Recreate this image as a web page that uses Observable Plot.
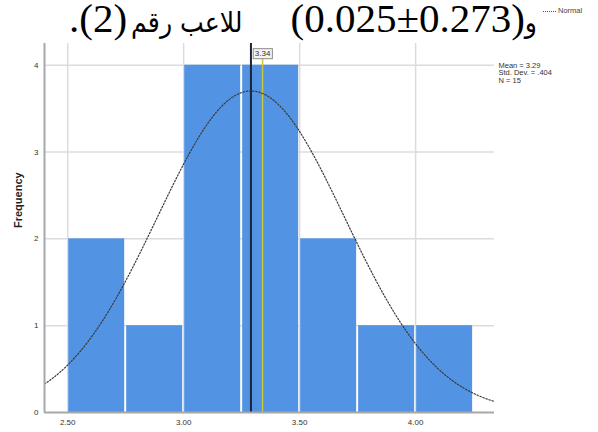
<!DOCTYPE html>
<html>
<head>
<meta charset="utf-8">
<script src="https://cdn.jsdelivr.net/npm/d3@7"></script>
<script src="https://cdn.jsdelivr.net/npm/@observablehq/plot@0.6"></script>
<style>
  body { margin: 0; background: #fff; }
  #wrap { position: relative; width: 598px; height: 432px; overflow: hidden; background: #fff; }
  #head { position: relative; height: 40px; }
  #title {
    position: absolute; right: 61px; top: -2px;
    display: flex; align-items: baseline; direction: ltr;
    line-height: 40px; color: #000;
  }
  #title .ar { font-family: "DejaVu Sans", sans-serif; font-stretch: condensed; font-size: 28px; white-space: pre; }
  #title .sp1 { margin-left: 4px; }
  #title .sp2 { margin-left: 48px; }
  #legend {
    position: absolute; left: 543px; top: 6px;
    font: 7.5px "Liberation Sans", Arial, sans-serif; color: #444; white-space: nowrap;
  }
  #legend .swatch {
    display: inline-block; width: 13px; height: 0; border-top: 1px dotted #555;
    vertical-align: middle; margin-right: 2px;
  }
  #chart svg { display: block; }
</style>
</head>
<body>
<div id="wrap">
  <div id="head">
    <div id="title"><span style="font-family:'Liberation Serif';font-size:41px">.(2)</span><span class="ar sp1" dir="rtl">للاعب رقم</span><span class="sp2" style="font-family:'Liberation Serif';font-size:41px">(0.025±0.273)</span><span class="ar" dir="rtl">و</span></div>
    <div id="legend"><span class="swatch"></span>Normal</div>
  </div>
  <div id="chart"></div>
</div>
<script>
// Histogram bins (lower edges), counts and summary statistics
const binStarts = [2.50, 2.75, 3.00, 3.25, 3.50, 3.75, 4.00];
const binWidth = 0.25;
const frequencies = [2, 1, 4, 4, 2, 1, 1];
const xTicks = [2.50, 3.00, 3.50, 4.00];
const yTicks = [0, 1, 2, 3, 4];
const mean = 3.29;
const stdDev = 0.404;
const count = 15;
const median = 3.34;
const xDomain = [2.40, 4.34];
const yDomain = [0, 4.25];

const bins = binStarts.map((x0, i) => ({x1: x0, x2: x0 + binWidth, count: frequencies[i]}));

// Fitted normal curve, scaled to the histogram counts
const normalCurve = d3.range(xDomain[0], xDomain[1] + 1e-9, 0.005).map(x => {
  const z = (x - mean) / stdDev;
  return {x, y: count * binWidth * Math.exp(-0.5 * z * z) / (stdDev * Math.sqrt(2 * Math.PI))};
});

const statsText = `Mean = ${mean.toFixed(2)}\nStd. Dev. = ${stdDev.toFixed(3).replace(/^0/, "")}\nN = ${count}`;

const grid = "#dcdcdc";
const axisGray = "#a8a8a8";

const chart = Plot.plot({
  width: 598,
  height: 392,
  marginTop: 3,
  marginBottom: 20,
  marginLeft: 44,
  marginRight: 104,
  x: {domain: xDomain},
  y: {domain: yDomain},
  style: {fontFamily: "'Liberation Sans', Arial, sans-serif", fontSize: "8px", color: "#333", background: "#fff"},
  marks: [
    Plot.ruleX(xTicks, {stroke: grid, strokeWidth: 1.5}),
    Plot.ruleY(yTicks.filter(d => d > 0), {stroke: grid, strokeWidth: 1.5}),
    Plot.rectY(bins, {x1: "x1", x2: "x2", y: "count", fill: "#5393e3", insetLeft: 1, insetRight: 1}),
    Plot.ruleX([median], {y1: 0, y2: 4.11, stroke: "#c9c832", strokeWidth: 1.5}),
    Plot.ruleX([mean], {stroke: "#1b2438", strokeWidth: 2}),
    Plot.line(normalCurve, {x: "x", y: "y", stroke: "#3a3a3a", strokeWidth: 1.2, strokeDasharray: "1.4,1.8"}),
    Plot.ruleX([xDomain[0]], {stroke: axisGray, strokeWidth: 2}),
    Plot.ruleY([0], {stroke: axisGray, strokeWidth: 2}),
    Plot.axisX(xTicks, {tickSize: 0, tickPadding: 7, tickFormat: d3.format(".2f"), label: null}),
    Plot.axisY(yTicks, {tickSize: 0, tickPadding: 6, tickFormat: d3.format("d"), label: null}),
    Plot.text(["Frequency"], {frameAnchor: "left", rotate: -90, dx: -26, fontWeight: "bold", fontSize: 11, fill: "#222"}),
    Plot.text([median], {x: d => d, frameAnchor: "top", dy: 7, text: d => d.toFixed(2), fontSize: 8, fill: "#333", className: "median-label"}),
    Plot.text([statsText], {frameAnchor: "top-right", dx: 4, dy: 19, textAnchor: "start", lineAnchor: "top", lineHeight: 1, fontSize: 7.5, fill: "#333"})
  ]
});

document.getElementById("chart").appendChild(chart);

// Framed box behind the median value label
d3.select(chart).selectAll(".median-label text").each(function() {
  const b = this.getBBox();
  d3.select(this.parentNode).insert("rect", () => this)
    .attr("transform", this.getAttribute("transform"))
    .attr("x", b.x - 1.5).attr("y", b.y - 0.5)
    .attr("width", b.width + 3).attr("height", b.height + 1)
    .attr("fill", "#f4f4f4").attr("stroke", "#8a8a8a").attr("stroke-width", 1);
});
</script>
</body>
</html>
